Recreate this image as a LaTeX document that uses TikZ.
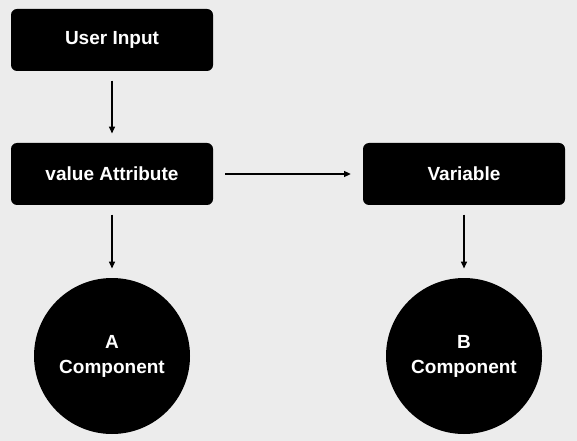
\documentclass[tikz,border=0pt]{standalone}
\usepackage{fontspec}
\setmainfont{Liberation Sans}
\usetikzlibrary{arrows.meta}
\definecolor{bgc}{HTML}{ECECEC}
\begin{document}
\begin{tikzpicture}[x=0.75pt,y=-0.75pt,
  boxnode/.style={fill=black,rectangle,rounded corners=4.5pt,minimum width=151.5pt,minimum height=46.5pt,inner sep=0pt,text=white,font=\fontsize{14.25}{18.75}\selectfont\bfseries},
  circnode/.style={fill=black,circle,minimum size=117pt,inner sep=0pt,text=white,align=center,font=\fontsize{14.25}{18.75}\selectfont\bfseries},
  conn/.style={draw=black,line width=0.9pt,-{Triangle[length=5pt,width=4.5pt]},shorten <=7pt,shorten >=7pt}]
\fill[bgc] (0,0) rectangle (577,441);
\useasboundingbox (0,0) rectangle (577,441);
\node[boxnode] (ui) at (112,40) {User Input};
\node[boxnode] (va) at (112,174) {value Attribute};
\node[boxnode] (var) at (464,174) {Variable};
\node[circnode] (a) at (112,356) {A\\Component};
\node[circnode] (b) at (464,356) {B\\Component};
\draw[conn] (ui) -- (va);
\draw[conn,shorten <=9pt,shorten >=9pt] (va) -- (var);
\draw[conn] (va) -- (a);
\draw[conn] (var) -- (b);
\end{tikzpicture}
\end{document}
